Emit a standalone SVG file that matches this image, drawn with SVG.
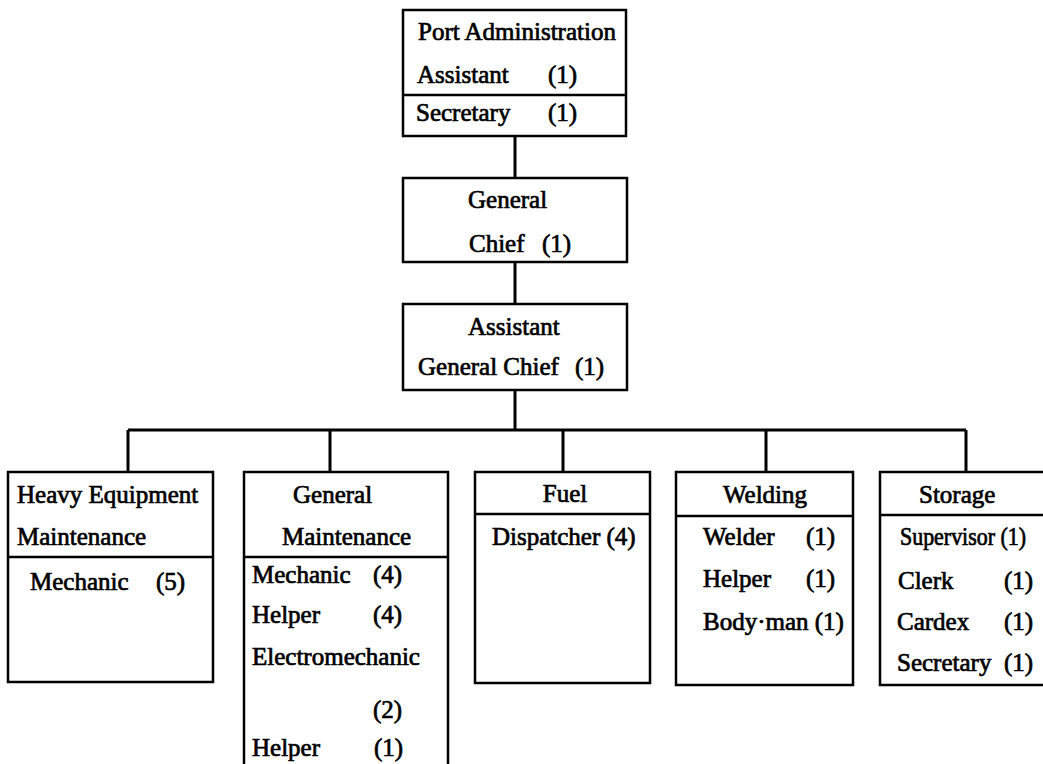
<svg xmlns="http://www.w3.org/2000/svg" width="1043" height="764" viewBox="0 0 1043 764">
<style>
  .bx { fill: #ffffff; stroke: #000000; stroke-width: 2.5; }
  .ln { fill: none; stroke: #000000; stroke-width: 2.5; }
  .cn { fill: none; stroke: #000000; stroke-width: 3; }
  text { font-family: "Liberation Serif", "Times New Roman", serif; font-size: 25px; fill: #000000; stroke: #000000; stroke-width: 0.7; }
  .mid { text-anchor: middle; }
</style>
<rect width="1043" height="764" fill="#ffffff"/>

<g id="connectors">
  <path class="cn" d="M515,136 V178"/>
  <path class="cn" d="M515,262 V304"/>
  <path class="cn" d="M515,390 V430"/>
  <path class="cn" d="M128,430 H966"/>
  <path class="cn" d="M128,430 V472"/>
  <path class="cn" d="M330,430 V472"/>
  <path class="cn" d="M563,430 V472"/>
  <path class="cn" d="M766,430 V472"/>
  <path class="cn" d="M966,430 V472"/>
</g>

<g id="port-administration">
  <rect class="bx" x="403" y="10" width="223" height="126"/>
  <path class="ln" d="M403,95 H626"/>
  <text x="418" y="40">Port Administration</text>
  <text x="417" y="83">Assistant</text>
  <text x="548" y="83">(1)</text>
  <text x="416" y="121">Secretary</text>
  <text x="548" y="121">(1)</text>
</g>

<g id="general-chief">
  <rect class="bx" x="403" y="178" width="224" height="84"/>
  <text x="468" y="208">General</text>
  <text x="469" y="252">Chief</text>
  <text x="542" y="252">(1)</text>
</g>

<g id="assistant-general-chief">
  <rect class="bx" x="403" y="304" width="224" height="86"/>
  <text x="468" y="335">Assistant</text>
  <text x="418" y="375">General Chief</text>
  <text x="575" y="375">(1)</text>
</g>

<g id="heavy-equipment-maintenance">
  <rect class="bx" x="8" y="472" width="205" height="210"/>
  <path class="ln" d="M8,557 H213"/>
  <text x="17" y="503">Heavy Equipment</text>
  <text x="17" y="545">Maintenance</text>
  <text x="30" y="590">Mechanic</text>
  <text x="156" y="590">(5)</text>
</g>

<g id="general-maintenance">
  <path class="bx" d="M244,766 V472 H448 V766"/>
  <path class="ln" d="M244,557 H448"/>
  <text x="293" y="503">General</text>
  <text x="282" y="545">Maintenance</text>
  <text x="252" y="583">Mechanic</text>
  <text x="373" y="583">(4)</text>
  <text x="252" y="623">Helper</text>
  <text x="373" y="623">(4)</text>
  <text x="252" y="665">Electromechanic</text>
  <text x="373" y="718">(2)</text>
  <text x="252" y="756">Helper</text>
  <text x="374" y="756">(1)</text>
</g>

<g id="fuel">
  <rect class="bx" x="475" y="472" width="175" height="211"/>
  <path class="ln" d="M475,514 H650"/>
  <text class="mid" x="565" y="502">Fuel</text>
  <text x="492" y="545">Dispatcher (4)</text>
</g>

<g id="welding">
  <rect class="bx" x="676" y="472" width="177" height="213"/>
  <path class="ln" d="M676,516 H853"/>
  <text class="mid" x="765" y="503">Welding</text>
  <text x="703" y="545">Welder</text>
  <text x="806" y="545">(1)</text>
  <text x="703" y="587">Helper</text>
  <text x="806" y="587">(1)</text>
  <text x="703" y="630">Body·man (1)</text>
</g>

<g id="storage">
  <path class="bx" d="M1045,472 H880 V685 H1045"/>
  <path class="ln" d="M880,515 H1045"/>
  <text x="919" y="503">Storage</text>
  <text x="900" y="545" textLength="126" lengthAdjust="spacingAndGlyphs">Supervisor (1)</text>
  <text x="898" y="589">Clerk</text>
  <text x="1004" y="589">(1)</text>
  <text x="897" y="630">Cardex</text>
  <text x="1004" y="630">(1)</text>
  <text x="897" y="671">Secretary</text>
  <text x="1004" y="671">(1)</text>
</g>
</svg>
